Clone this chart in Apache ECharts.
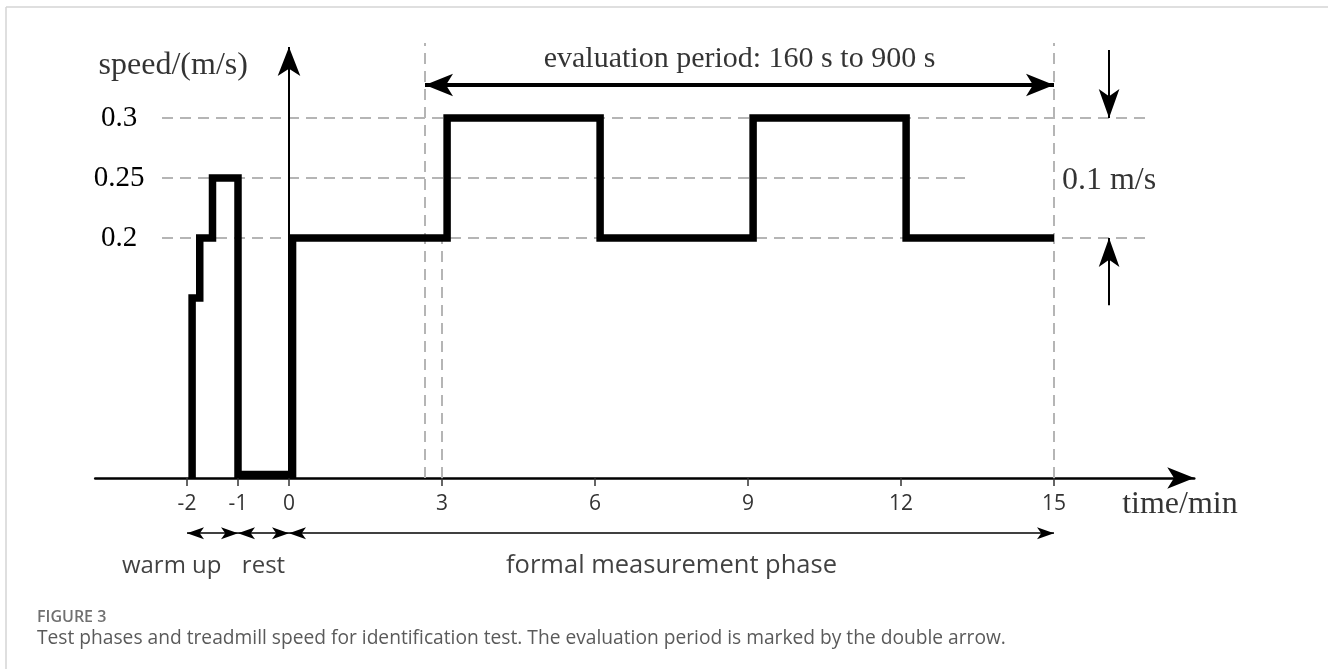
<!DOCTYPE html>
<html><head><meta charset="utf-8">
<script src="https://cdn.jsdelivr.net/npm/echarts@6/dist/echarts.min.js"></script>
<style>html,body{margin:0;padding:0;background:#fff;}#c{width:1328px;height:669px;}</style>
</head><body><div id="c"></div>
<script>
// ---- data (time in min, speed in m/s) ----
const stepTimes  = [-1.9, -1.9, -1.75, -1.5, -1.0, 0.07, 3.1, 6.1, 9.1, 12.1, 15];
const stepSpeeds = [0, 0.15, 0.2, 0.25, 0.003, 0.2, 0.3, 0.2, 0.3, 0.2, 0.2];
const xTickValues = [-2, -1, 0, 3, 6, 9, 12, 15];
const yTickValues = [0.2, 0.25, 0.3];
const evalStartMin = 160 / 60;
const evalEndMin = 900 / 60;
const phaseBounds = [-2, -1, 0, 15];
const phaseNames = ['warm up', 'rest', 'formal measurement phase'];
const evalText = 'evaluation period: 160 s to 900 s';
const stepText = '0.1 m/s';
const captionTitle = 'FIGURE 3';
const captionText = 'Test phases and treadmill speed for identification test. The evaluation period is marked by the double arrow.';

const SERIF = '"Liberation Serif", "DejaVu Serif", serif';
const SANS = '"Open Sans", "Noto Sans", sans-serif';

const chart = echarts.init(document.getElementById('c'));
const stepData = stepTimes.map((t, i) => [t, stepSpeeds[i]]);

const dash = { color: '#b5b5b5', width: 2, type: [11, 7] };
const solid = w => ({ color: '#000', width: w, type: 'solid' });
function line(a, b, style) { return [{ coord: a, lineStyle: style }, { coord: b }]; }
function arrowEnd(size) { return { symbol: 'arrow', symbolSize: size }; }

const guideLines = [
  line([-2.49, 0.3], [16.82, 0.3], dash),
  line([-2.49, 0.25], [13.3, 0.25], dash),
  line([-2.49, 0.2], [16.82, 0.2], dash),
  line([evalStartMin, 0], [evalStartMin, 0.3625], dash),
  line([3, 0], [3, 0.2], dash),
  line([15, 0], [15, 0.3625], dash)
];

const arrows = [
  // y axis with arrow
  [{ coord: [0, 0], symbol: 'none', lineStyle: solid(2) }, Object.assign({ coord: [0, 0.3592] }, arrowEnd([17, 29]))],
  // evaluation period
  [Object.assign({ coord: [evalStartMin, 0.3275], lineStyle: solid(4) }, arrowEnd([17, 28])),
   Object.assign({ coord: [evalEndMin, 0.3275] }, arrowEnd([17, 28]))],
  // 0.1 m/s arrows
  [{ coord: [16.08, 0.3567], symbol: 'none', lineStyle: solid(2) }, Object.assign({ coord: [16.08, 0.3] }, arrowEnd([15.5, 29]))],
  [{ coord: [16.08, 0.144], symbol: 'none', lineStyle: solid(2) }, Object.assign({ coord: [16.08, 0.2] }, arrowEnd([15.5, 29]))]
];

const phaseY = -0.046;
const phaseArrows = [];
for (let i = 0; i < phaseNames.length; i++) {
  phaseArrows.push([
    Object.assign({ coord: [phaseBounds[i], phaseY], lineStyle: solid(1.6) }, arrowEnd([9, 17])),
    Object.assign({ coord: [phaseBounds[i + 1], phaseY] }, arrowEnd([9, 17]))
  ]);
}

const topNotes = [
  { text: 'speed/(m/s)', at: [-2.27, 0.344], family: SERIF, size: 32 },
  { text: evalText, at: [(evalStartMin + evalEndMin) / 2, 0.349], family: SERIF, size: 30 },
  { text: stepText, at: [16.08, 0.248], family: SERIF, size: 32 }
];
const bottomNotes = [
  { text: 'time/min', at: [17.47, -0.0225], family: SERIF, size: 32, color: '#000' },
  { text: phaseNames[0], at: [-2.3, -0.0733], family: SANS, size: 24, color: '#111' },
  { text: phaseNames[1], at: [-0.5, -0.0733], family: SANS, size: 24, color: '#111' },
  { text: phaseNames[2], at: [7.5, -0.0733], family: SANS, size: 25.5, color: '#111' }
];
const toLabels = list => list.map(a => ({
  value: a.at,
  label: { show: true, position: 'inside', formatter: a.text, fontFamily: a.family, fontSize: a.size, color: a.color || '#000' }
}));

const X_MIN = -3.8, X_MAX = 17.75;
chart.setOption({
  animation: false,
  backgroundColor: '#fff',
  title: {
    text: captionTitle, subtext: captionText, left: 37, top: 609, padding: 0, itemGap: 4,
    textStyle: { fontFamily: SANS, fontSize: 16, fontWeight: 600, color: '#707070' },
    subtextStyle: { fontFamily: SANS, fontSize: 19.2, color: '#5a5a5a' }
  },
  graphic: [
    { type: 'line', shape: { x1: 6, y1: 7, x2: 1328, y2: 7 }, style: { stroke: '#d4d4d4', lineWidth: 1.5 }, silent: true },
    { type: 'line', shape: { x1: 6, y1: 7, x2: 6, y2: 669 }, style: { stroke: '#d4d4d4', lineWidth: 1.5 }, silent: true }
  ],
  grid: [
    { left: 95.2, top: 34, width: 1099.05, height: 444 },
    { left: 95.2, top: 478, width: 1099.05, height: 120 }
  ],
  xAxis: [{
    gridIndex: 0, type: 'value', min: X_MIN, max: X_MAX, position: 'bottom',
    axisLine: { onZero: false, lineStyle: { color: '#000', width: 2.5 }, symbol: ['none', 'arrow'], symbolSize: [16, 27] },
    axisTick: { show: true, customValues: xTickValues, length: 8, lineStyle: { color: '#333', width: 1.5 } },
    axisLabel: { customValues: xTickValues, margin: 16, fontFamily: SANS, fontSize: 21, color: '#333' },
    splitLine: { show: false }
  }, {
    gridIndex: 1, type: 'value', min: X_MIN, max: X_MAX, show: false
  }],
  yAxis: [{
    gridIndex: 0, type: 'value', min: 0, max: 0.37, offset: -24,
    axisLine: { show: false, onZero: false },
    axisTick: { show: false },
    axisLabel: { customValues: yTickValues, margin: 0, align: 'center', fontFamily: SERIF, fontSize: 29, color: '#000', formatter: v => String(v) },
    splitLine: { show: false }
  }, {
    gridIndex: 1, type: 'value', min: -0.1, max: 0, show: false
  }],
  series: [
    {
      type: 'line', name: 'guides', data: [], silent: true, z: 1,
      markLine: { silent: true, symbol: ['none', 'none'], label: { show: false }, data: guideLines, animation: false }
    },
    {
      type: 'line', name: 'treadmill speed', data: stepData, step: 'end', showSymbol: false, z: 5,
      lineStyle: { color: '#000', width: 7.5, join: 'miter', cap: 'butt' }, silent: true
    },
    {
      type: 'line', name: 'arrows', data: [], silent: true, z: 6,
      markLine: { silent: true, symbol: ['none', 'none'], label: { show: false }, data: arrows, animation: false }
    },
    {
      type: 'line', name: 'phase arrows', xAxisIndex: 1, yAxisIndex: 1, data: [], silent: true, z: 6,
      markLine: { silent: true, symbol: ['none', 'none'], label: { show: false }, data: phaseArrows, animation: false }
    },
    {
      type: 'scatter', name: 'notes', silent: true, z: 7, symbolSize: 1,
      itemStyle: { color: 'rgba(0,0,0,0)' }, data: toLabels(topNotes)
    },
    {
      type: 'scatter', name: 'phase notes', xAxisIndex: 1, yAxisIndex: 1, silent: true, z: 7, symbolSize: 1,
      itemStyle: { color: 'rgba(0,0,0,0)' }, data: toLabels(bottomNotes)
    }
  ]
});
</script></body></html>
